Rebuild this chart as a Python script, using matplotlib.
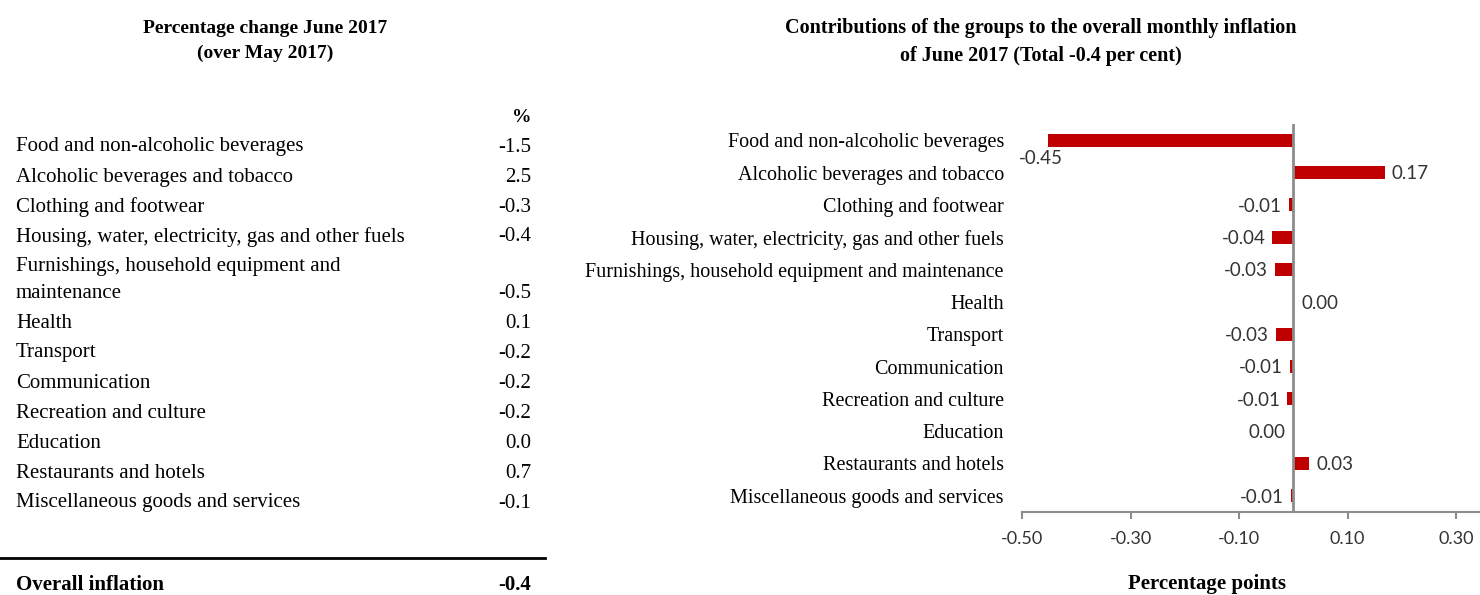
import matplotlib.pyplot as plt
from matplotlib.lines import Line2D

# --- data -------------------------------------------------------------
groups = [
    "Food and non-alcoholic beverages",
    "Alcoholic beverages and tobacco",
    "Clothing and footwear",
    "Housing, water, electricity, gas and other fuels",
    "Furnishings, household equipment and maintenance",
    "Health",
    "Transport",
    "Communication",
    "Recreation and culture",
    "Education",
    "Restaurants and hotels",
    "Miscellaneous goods and services",
]
# same names as printed in the left-hand table (one is wrapped)
table_names = groups.copy()
table_names[4] = "Furnishings, household equipment and\nmaintenance"

pct_change = [-1.5, 2.5, -0.3, -0.4, -0.5, 0.1, -0.2, -0.2, -0.2, 0.0, 0.7, -0.1]
overall_inflation = -0.4

contrib = [-0.453, 0.168, -0.009, -0.039, -0.034, 0.002,
           -0.032, -0.006, -0.011, -0.001, 0.029, -0.004]
contrib_labels = ["-0.45", "0.17", "-0.01", "-0.04", "-0.03", "0.00",
                  "-0.03", "-0.01", "-0.01", "0.00", "0.03", "-0.01"]
xticks = [-0.50, -0.30, -0.10, 0.10, 0.30]

# --- style ------------------------------------------------------------
W, H = 1480, 595
SERIF = "Liberation Serif"
SANS = "Lato"
RED = "#C00000"
GREY = "#8C8C8C"
DARK = "#333333"


def fx(px):
    return px / W


def fy(py):
    return 1 - py / H


fig = plt.figure(figsize=(W / 100, H / 100), dpi=100)

# --- left: table of percentage changes ---------------------------------
fig.text(fx(265), fy(41), "Percentage change June 2017\n(over May 2017)",
         ha="center", va="center", family=SERIF, fontweight="bold",
         fontsize=14, linespacing=1.6)
fig.text(fx(531), fy(118), "%", ha="right", va="center", family=SERIF,
         fontweight="bold", fontsize=14)

y = 147
for name, val in zip(table_names, pct_change):
    lines = name.split("\n")
    for k, line in enumerate(lines):
        fig.text(fx(16), fy(y), line, ha="left", va="center",
                 family=SERIF, fontsize=15)
        if k < len(lines) - 1:
            y += 26
    fig.text(fx(531), fy(y), f"{val:.1f}", ha="right", va="center",
             family=SERIF, fontsize=15)
    y += 30

fig.add_artist(Line2D([0, fx(545)], [fy(558), fy(558)],
                      transform=fig.transFigure, color="black", lw=2))
fig.text(fx(16), fy(585), "Overall inflation", ha="left", va="center",
         family=SERIF, fontweight="bold", fontsize=15)
fig.text(fx(531), fy(585), f"{overall_inflation:.1f}", ha="right",
         va="center", family=SERIF, fontweight="bold", fontsize=15)

# --- right: contributions bar chart -----------------------------------
fig.text(fx(1041), fy(42),
         "Contributions of the groups to the overall monthly inflation\n"
         "of June 2017 (Total -0.4 per cent)",
         ha="center", va="center", family=SERIF, fontweight="bold",
         fontsize=14.5, linespacing=1.5)

ax = fig.add_axes([fx(1022), fy(512), fx(W - 1022), (512 - 124) / H])
pos = list(range(len(groups)))
ax.barh(pos, contrib, height=0.4, color=RED, zorder=2)
ax.axvline(0, color=GREY, lw=2, zorder=3)

ax.set_xlim(-0.50, (W - 1293.5) / 542.5)
ax.set_ylim(len(groups) - 0.5, -0.5)

ax.set_yticks(pos)
ax.set_yticklabels(groups, family=SERIF, fontsize=14.5)
ax.tick_params(axis="y", length=0, pad=13)

ax.set_xticks(xticks)
ax.set_xticklabels([f"{t:.2f}" for t in xticks], family=SANS, fontsize=13,
                   color=DARK)
ax.tick_params(axis="x", direction="out", length=5, width=1.5, color=GREY,
               pad=9)

for s in ("top", "right", "left"):
    ax.spines[s].set_visible(False)
ax.spines["bottom"].set_color(GREY)
ax.spines["bottom"].set_linewidth(1.5)

xmin = ax.get_xlim()[0]
lab_kw = dict(textcoords="offset points", family=SANS, fontsize=13.5,
              color=DARK)
for i, (v, lab) in enumerate(zip(contrib, contrib_labels)):
    if v < xmin + 0.1:
        # no room outside the bar end: label drops below it
        ax.annotate(lab, (v, i), xytext=(-5, -7), ha="center", va="top",
                    **lab_kw)
    elif v < 0:
        ax.annotate(lab, (v, i), xytext=(-5, -1), ha="right", va="center",
                    **lab_kw)
    else:
        ax.annotate(lab, (v, i), xytext=(5, -1), ha="left", va="center",
                    **lab_kw)

fig.text(fx(1207), fy(584), "Percentage points", ha="center", va="center",
         family=SERIF, fontweight="bold", fontsize=15)

fig.savefig("out.png", dpi=100)
